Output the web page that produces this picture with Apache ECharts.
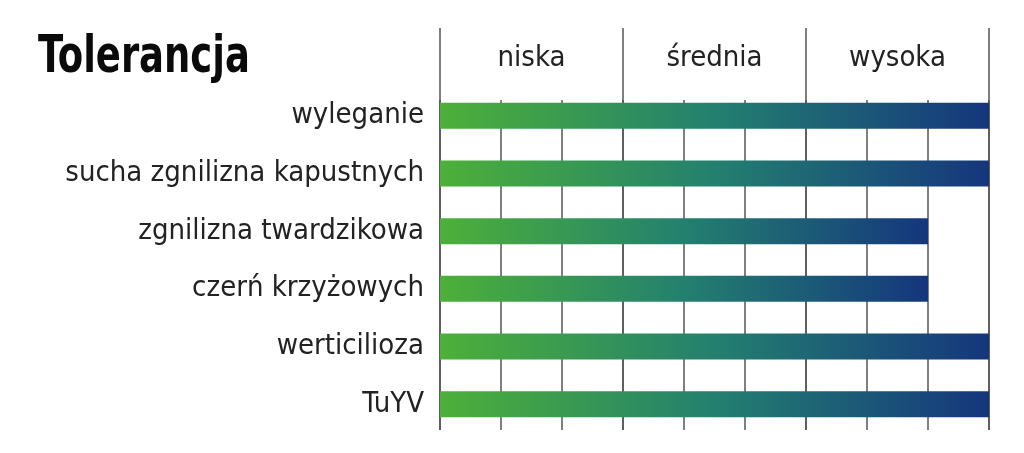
<!DOCTYPE html>
<html>
<head>
<meta charset="utf-8">
<script src="https://cdn.jsdelivr.net/npm/echarts@6/dist/echarts.min.js"></script>
<style>
  html, body { margin: 0; padding: 0; background: #fff; }
  #chart { width: 1024px; height: 453px; }
</style>
</head>
<body>
<div id="chart"></div>
<script>
// tolerance ratings, scale 0..9
const categories = ['wyleganie', 'sucha zgnilizna kapustnych', 'zgnilizna twardzikowa', 'czerń krzyżowych', 'werticilioza', 'TuYV']
const values = [9, 9, 8, 8, 9, 9]
const levels = ['niska', 'średnia', 'wysoka']

const font = '"DejaVu Sans Condensed", "Liberation Sans Narrow", sans-serif'
const lineStyle = { color: '#555', width: 1.5 }

var chart = echarts.init(document.getElementById('chart'))

chart.setOption({
    backgroundColor: '#fff',
    animation: false,
    // heading squeezed a bit to look like the condensed original
    graphic: [{
        type: 'text',
        left: 38, top: 32,
        scaleX: 0.79,
        style: {
            text: 'Tolerancja',
            font: 'bold 52px ' + font,
            fill: '#0a0a0a'
        }
    }],
    grid: [
        // bars
        { left: 440, right: 35, top: 87, bottom: 20 },
        // thin lines, every unit
        { left: 440, right: 35, top: 100, bottom: 23 },
        // header with long lines
        { left: 440, right: 35, top: 28, bottom: 23 }
    ],
    xAxis: [
        { gridIndex: 0, type: 'value', min: 0, max: 9, show: false },
        {
            gridIndex: 1, type: 'value', min: 0, max: 9, interval: 1,
            axisLine: { show: false }, axisTick: { show: false }, axisLabel: { show: false },
            splitLine: { show: true, lineStyle: lineStyle }
        },
        {
            gridIndex: 2, type: 'category', data: levels, position: 'top',
            axisLine: { show: false }, axisTick: { show: false },
            axisLabel: { margin: -30, verticalAlign: 'middle', fontFamily: font, fontSize: 29, color: '#222' },
            splitLine: { show: true, lineStyle: lineStyle }
        }
    ],
    yAxis: [
        {
            gridIndex: 0, type: 'category', data: categories, inverse: true,
            axisLine: { show: false }, axisTick: { show: false },
            axisLabel: { margin: 16, fontFamily: font, fontSize: 29, color: '#222' }
        },
        { gridIndex: 1, type: 'value', show: false },
        { gridIndex: 2, type: 'value', show: false }
    ],
    series: [{
        type: 'bar',
        xAxisIndex: 0, yAxisIndex: 0,
        data: values,
        barWidth: 26,
        z: 5,
        itemStyle: {
            color: new echarts.graphic.LinearGradient(0, 0, 1, 0, [
                { offset: 0, color: '#4db038' },
                { offset: 0.5, color: '#23806f' },
                { offset: 1, color: '#15367d' }
            ])
        }
    }]
})
</script>
</body>
</html>
